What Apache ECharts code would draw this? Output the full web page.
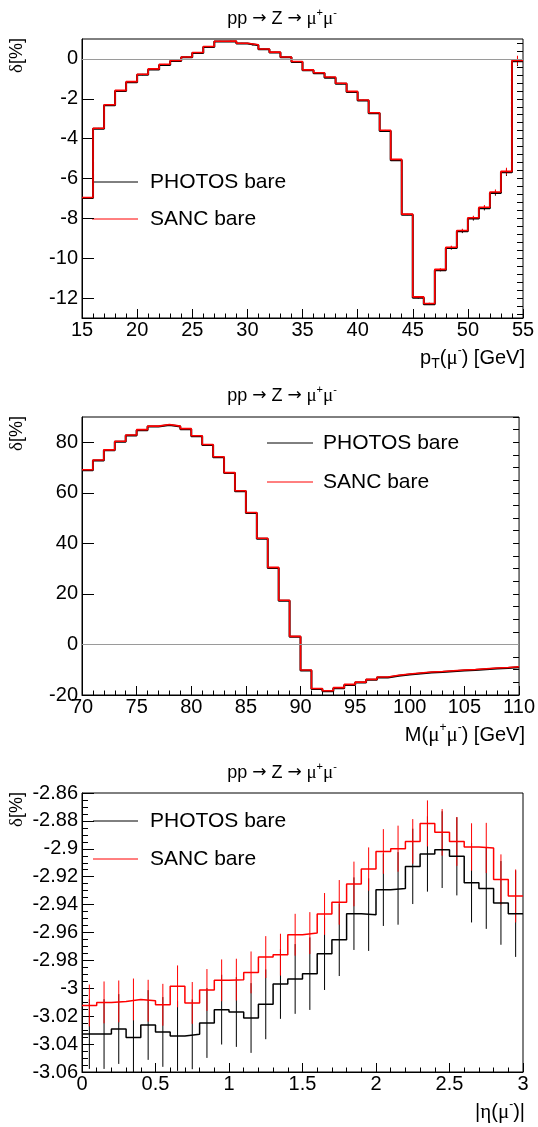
<!DOCTYPE html>
<html><head><meta charset="utf-8">
<script src="https://cdn.jsdelivr.net/npm/echarts@6/dist/echarts.min.js"></script>
<style>html,body{margin:0;padding:0;background:#fff}#c{width:538px;height:1127px}</style>
</head><body><div id="c"></div>
<script>
// ---------- DATA ----------
const ptEdges = [15,16,17,18,19,20,21,22,23,24,25,26,27,28,29,30,31,32,33,34,35,36,37,38,39,40,41,42,43,44,45,46,47,48,49,50,51,52,53,54,55];
const ptPhotos = [-6.98,-3.50,-2.33,-1.61,-1.17,-0.80,-0.53,-0.30,-0.10,0.08,0.30,0.60,0.87,0.88,0.77,0.69,0.48,0.32,0.08,-0.15,-0.57,-0.72,-0.94,-1.25,-1.66,-2.09,-2.73,-3.62,-5.08,-7.82,-11.99,-12.31,-10.60,-9.49,-8.65,-8.01,-7.49,-6.73,-5.69,-0.12];
const ptSanc = [-6.95,-3.48,-2.30,-1.58,-1.14,-0.77,-0.50,-0.27,-0.08,0.10,0.32,0.62,0.89,0.90,0.79,0.71,0.50,0.34,0.10,-0.13,-0.55,-0.69,-0.91,-1.22,-1.63,-2.06,-2.70,-3.58,-5.04,-7.79,-11.94,-12.27,-10.56,-9.45,-8.61,-7.97,-7.44,-6.68,-5.64,-0.08];
const ptErr = [0.02,0.02,0.02,0.02,0.02,0.02,0.02,0.02,0.02,0.02,0.02,0.02,0.02,0.02,0.02,0.02,0.02,0.02,0.02,0.02,0.02,0.02,0.02,0.02,0.02,0.02,0.02,0.02,0.02,0.02,0.04,0.04,0.06,0.08,0.09,0.10,0.11,0.13,0.18,0.24];
const ptYTicks = [-12,-10,-8,-6,-4,-2,0];

const mEdges = [70,71,72,73,74,75,76,77,78,79,80,81,82,83,84,85,86,87,88,89,90,91,92,93,94,95,96,97,98,99,100,101,102,103,104,105,106,107,108,109,110];
const mPhotos = [68.9,72.8,76.8,80.2,82.7,84.8,86.2,86.8,86.2,85.2,82.4,78.9,74.1,67.8,60.6,52.0,41.8,30.3,17.3,3.0,-10.3,-17.6,-18.5,-17.3,-16.0,-15.1,-14.0,-13.1,-12.4,-11.9,-11.5,-11.1,-10.9,-10.6,-10.3,-10.1,-9.8,-9.5,-9.3,-9.0];
const mSanc = [69.1,73.0,77.0,80.4,82.9,85.0,86.4,87.0,86.4,85.4,82.6,79.1,74.3,68.0,60.8,52.2,42.0,30.5,17.5,3.2,-10.1,-17.4,-18.3,-17.1,-15.8,-14.9,-13.8,-12.9,-12.2,-11.7,-11.3,-10.9,-10.7,-10.4,-10.1,-9.9,-9.6,-9.3,-9.1,-8.8];
const mYTicks = [-20,0,20,40,60,80];

const etaEdges = [0,0.1,0.2,0.3,0.4,0.5,0.6,0.7,0.8,0.9,1.0,1.1,1.2,1.3,1.4,1.5,1.6,1.7,1.8,1.9,2.0,2.1,2.2,2.3,2.4,2.5,2.6,2.7,2.8,2.9,3.0];
const etaPhotos = [-3.0328,-3.0328,-3.0292,-3.0352,-3.0263,-3.0313,-3.0342,-3.033,-3.0249,-3.0153,-3.017,-3.0213,-3.0115,-2.9969,-2.9933,-2.9895,-2.9752,-2.9652,-2.9465,-2.9472,-2.9293,-2.9284,-2.9126,-2.9037,-2.9006,-2.9054,-2.9243,-2.9284,-2.9388,-2.9465];
const etaSanc = [-3.0123,-3.0101,-3.0094,-3.008,-3.0089,-3.0118,-2.9986,-3.0105,-3.0012,-2.9943,-2.9938,-2.9886,-2.9776,-2.9759,-2.9616,-2.9604,-2.9467,-2.9384,-2.9252,-2.9145,-2.9019,-2.8999,-2.8947,-2.8818,-2.8882,-2.8947,-2.8987,-2.8994,-2.922,-2.9338];
const etaPhotosErr = [0.025,0.025,0.025,0.025,0.025,0.025,0.025,0.025,0.025,0.025,0.025,0.025,0.025,0.025,0.025,0.026,0.026,0.026,0.026,0.026,0.026,0.026,0.027,0.027,0.0275,0.028,0.0285,0.029,0.030,0.031];
const etaSancErr = [0.015,0.015,0.015,0.015,0.015,0.015,0.015,0.015,0.015,0.015,0.015,0.015,0.015,0.015,0.015,0.015,0.015,0.016,0.016,0.0155,0.016,0.0165,0.016,0.0165,0.0167,0.0175,0.017,0.018,0.018,0.019];

const legendNames = ['PHOTOS bare', 'SANC bare'];

// ---------- STYLE / HELPERS ----------
const FONT = '"Liberation Sans", Arial, sans-serif';
const SERIF = '"Liberation Serif", "DejaVu Serif", serif';
const ARROWFONT = '"DejaVu Sans", sans-serif';
const BLACK = '#000000', RED = '#ff0000';

function histSeries(edges, vals, color, xi, yi, lw, extra) {
  const data = [];
  vals.forEach((v, i) => { data.push([edges[i], v]); data.push([edges[i + 1], v]); });
  return Object.assign({
    type: 'line', xAxisIndex: xi, yAxisIndex: yi, data: data,
    showSymbol: false, symbol: 'none', animation: false, silent: true, z: 3,
    lineStyle: { color: color, width: lw }, itemStyle: { color: color }
  }, extra || {});
}
function errSeries(edges, vals, errs, color, xi, yi, lw) {
  const data = vals.map((v, i) => [(edges[i] + edges[i + 1]) / 2, v - errs[i], v + errs[i]]);
  return {
    type: 'custom', xAxisIndex: xi, yAxisIndex: yi, data: data, silent: true, animation: false, z: 3,
    encode: { x: 0, y: [1, 2] },
    renderItem: function (params, api) {
      const x = api.value(0);
      const a = api.coord([x, api.value(2)]);
      const b = api.coord([x, api.value(1)]);
      const cs = params.coordSys;
      const y1 = Math.max(a[1], cs.y), y2 = Math.min(b[1], cs.y + cs.height);
      if (y2 <= y1) return null;
      return { type: 'line', shape: { x1: a[0], y1: y1, x2: a[0], y2: y2 }, style: { stroke: color, lineWidth: lw } };
    }
  };
}
function range(from, to, step) {
  const out = []; const n = Math.round((to - from) / step);
  for (let k = 0; k <= n; k++) out.push(Math.round((from + k * step) * 1e6) / 1e6);
  return out;
}
const labelStyle = { color: '#000', fontSize: 20, fontFamily: FONT };
function xAx(gi, min, max, interval) {
  return {
    type: 'value', gridIndex: gi, min: min, max: max, interval: interval,
    axisLine: { show: true, onZero: false, lineStyle: { color: '#000', width: 1 } },
    axisTick: { show: true, inside: true, length: 9, lineStyle: { color: '#000', width: 1 } },
    minorTick: { show: true, splitNumber: 5, length: 4.5, lineStyle: { color: '#000', width: 1 } },
    splitLine: { show: false }, minorSplitLine: { show: false },
    axisLabel: Object.assign({ margin: 2 }, labelStyle)
  };
}
function yMajor(gi, min, max, ticks) {
  return {
    type: 'value', gridIndex: gi, min: min, max: max,
    axisLine: { show: true, onZero: false, lineStyle: { color: '#000', width: 1 } },
    axisTick: { show: true, inside: true, length: 12, customValues: ticks, lineStyle: { color: '#000', width: 1 } },
    splitLine: { show: false },
    axisLabel: Object.assign({ margin: 4, customValues: ticks }, labelStyle)
  };
}
function yMinor(gi, min, max, ticks) {
  return {
    type: 'value', gridIndex: gi, min: min, max: max,
    axisLine: { show: false }, splitLine: { show: false }, axisLabel: { show: false },
    axisTick: { show: true, inside: true, length: 6, customValues: ticks, lineStyle: { color: '#000', width: 1 } }
  };
}

const grids = [
  { left: 82, right: 15, top: 39, height: 279 },
  { left: 82, right: 15, top: 417, height: 278 },
  { left: 82, right: 15, top: 793, height: 279 }
].map(g => Object.assign({ show: true, borderColor: '#000', borderWidth: 1, backgroundColor: 'transparent' }, g));

const xAxes = [xAx(0, 15, 55, 5), xAx(1, 70, 110, 5), xAx(2, 0, 3, 0.5)];
const yAxes = [
  yMajor(0, -13, 1, ptYTicks), yMinor(0, -13, 1, range(-12.8, 0.8, 0.4)),
  yMajor(1, -20, 90, mYTicks), yMinor(1, -20, 90, range(-20, 90, 5)),
  {
    type: 'value', gridIndex: 2, min: -3.06, max: -2.86, interval: 0.02,
    axisLine: { show: true, onZero: false, lineStyle: { color: '#000', width: 1 } },
    axisTick: { show: true, inside: true, length: 12, lineStyle: { color: '#000', width: 1 } },
    minorTick: { show: true, splitNumber: 4, length: 6, lineStyle: { color: '#000', width: 1 } },
    splitLine: { show: false },
    axisLabel: Object.assign({ margin: 4 }, labelStyle)
  }
];

const zeroLine = {
  markLine: {
    silent: true, symbol: ['none', 'none'], label: { show: false }, animation: false,
    lineStyle: { color: '#9a9a9a', type: 'solid', width: 1 }, data: [{ yAxis: 0 }]
  }
};

const series = [
  histSeries(ptEdges, ptPhotos, BLACK, 0, 0, 2, zeroLine),
  errSeries(ptEdges, ptPhotos, ptErr, BLACK, 0, 0, 1),
  histSeries(ptEdges, ptSanc, RED, 0, 0, 1.6),
  errSeries(ptEdges, ptSanc, ptErr, RED, 0, 0, 1),

  histSeries(mEdges, mPhotos, BLACK, 1, 2, 2, zeroLine),
  histSeries(mEdges, mSanc, RED, 1, 2, 1.6),

  histSeries(etaEdges, etaPhotos, BLACK, 2, 4, 1.5),
  errSeries(etaEdges, etaPhotos, etaPhotosErr, BLACK, 2, 4, 1),
  histSeries(etaEdges, etaSanc, RED, 2, 4, 1.5),
  errSeries(etaEdges, etaSanc, etaSancErr, RED, 2, 4, 1)
];

// ---------- TEXT (titles, axis titles, legends) ----------
const richAxis = {
  n: { fontFamily: FONT, fontSize: 20, color: '#000', lineHeight: 26 },
  m: { fontFamily: SERIF, fontSize: 21, color: '#000', lineHeight: 26 },
  sup: { fontFamily: FONT, fontSize: 12, color: '#000', verticalAlign: 'top' },
  sub: { fontFamily: FONT, fontSize: 14, color: '#000', verticalAlign: 'bottom' }
};
const richY = {
  n: { fontFamily: FONT, fontSize: 18, color: '#000', lineHeight: 22 },
  m: { fontFamily: SERIF, fontSize: 19, color: '#000', lineHeight: 22 }
};
const richTitle = {
  n: { fontFamily: FONT, fontSize: 18, color: '#000', lineHeight: 24 },
  a: { fontFamily: ARROWFONT, fontSize: 17, color: '#000', lineHeight: 24 },
  m: { fontFamily: SERIF, fontSize: 19, color: '#000', lineHeight: 24 },
  sup: { fontFamily: FONT, fontSize: 11, color: '#000', verticalAlign: 'top' }
};
function txt(x, y, text, rich, align, extra) {
  return Object.assign({
    type: 'text', x: x, y: y, silent: true,
    style: { text: text, rich: rich, align: align, verticalAlign: 'middle', fill: '#000' }
  }, extra || {});
}
const titleText = '{n|pp }{a|\u2192}{n| Z }{a|\u2192}{m| \u03bc}{sup|+}{m|\u03bc}{sup|-}';
const yTitle = '{m|\u03b4}{n|[%]}';
const graphics = [];
[19, 396, 773].forEach(y => graphics.push(txt(282, y, titleText, richTitle, 'center')));
[38, 416, 792].forEach(y => graphics.push(txt(17, y, yTitle, richY, 'right', { rotation: Math.PI / 2 })));
graphics.push(txt(525, 358, '{n|p}{sub|T}{n|(}{m|\u03bc}{sup|-}{n|) [GeV]}', richAxis, 'right'));
graphics.push(txt(525, 735, '{n|M(}{m|\u03bc}{sup|+}{m|\u03bc}{sup|-}{n|) [GeV]}', richAxis, 'right'));
graphics.push(txt(525, 1112, '{n||}{m|\u03b7}{n|(}{m|\u03bc}{sup|-}{n|)|}', richAxis, 'right'));

function legend(x1, x2, xt, yBlack, yRed) {
  [[yBlack, BLACK, legendNames[0]], [yRed, RED, legendNames[1]]].forEach(([y, c, name]) => {
    graphics.push({ type: 'line', silent: true, shape: { x1: x1, y1: y, x2: x2, y2: y }, style: { stroke: c, lineWidth: 1 } });
    graphics.push({ type: 'text', x: xt, y: y, silent: true,
      style: { text: name, fontFamily: FONT, fontSize: 21, fill: '#000', align: 'left', verticalAlign: 'middle' } });
  });
}
legend(92, 138, 150, 182, 219);
legend(267, 313, 323, 443, 482);
legend(93, 138, 150, 821, 859);

const chart = echarts.init(document.getElementById('c'), null, { renderer: 'canvas', width: 538, height: 1127 });
chart.setOption({
  animation: false,
  backgroundColor: '#ffffff',
  grid: grids, xAxis: xAxes, yAxis: yAxes, series: series, graphic: graphics
});
</script>
</body></html>
